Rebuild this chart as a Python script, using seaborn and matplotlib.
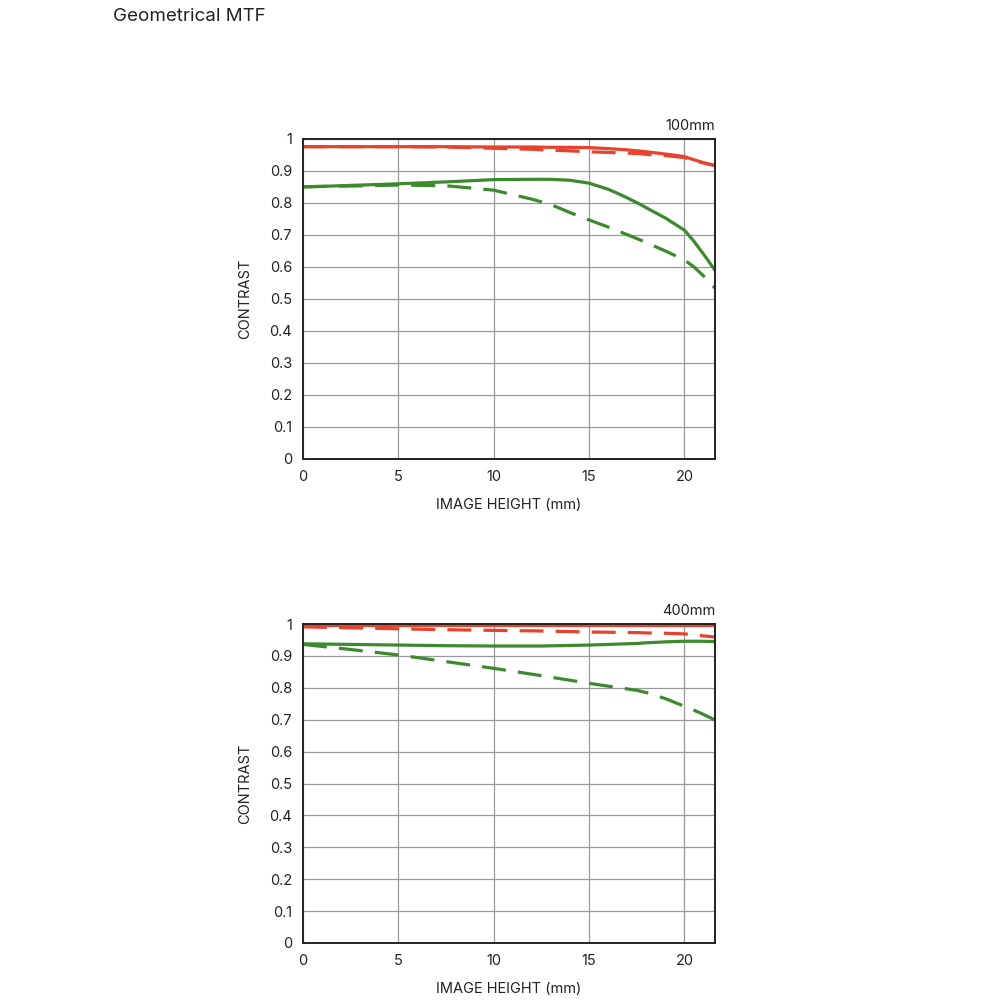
import matplotlib
matplotlib.use("Agg")
import matplotlib.pyplot as plt
import seaborn as sns
import pandas as pd

# ---- data ----
x_100 = [0, 2.5, 5, 7.5, 10, 12, 13, 14, 15, 16, 16.5, 17, 17.7, 18, 19, 20, 20.5, 21, 21.6]
red_solid_100 = [0.976, 0.976, 0.976, 0.976, 0.975, 0.975, 0.974, 0.974, 0.973, 0.970, 0.968, 0.966, 0.962, 0.960, 0.953, 0.945, 0.935, 0.926, 0.917]
red_dash_100 = [0.976, 0.976, 0.976, 0.975, 0.971, 0.968, 0.965, 0.963, 0.960, 0.958, 0.957, 0.956, 0.954, 0.952, 0.948, 0.942, 0.933, 0.925, 0.917]
green_solid_100 = [0.850, 0.855, 0.860, 0.866, 0.873, 0.874, 0.874, 0.871, 0.862, 0.843, 0.830, 0.816, 0.795, 0.785, 0.753, 0.715, 0.680, 0.640, 0.590]
green_dash_100 = [0.851, 0.853, 0.856, 0.854, 0.840, 0.812, 0.795, 0.770, 0.747, 0.725, 0.713, 0.701, 0.684, 0.676, 0.650, 0.622, 0.600, 0.572, 0.534]

x_400 = [0, 2.5, 5, 7.5, 10, 12.5, 15, 17.5, 18, 19, 20, 20.8, 21.6]
red_solid_400 = [0.996, 0.996, 0.996, 0.996, 0.996, 0.996, 0.996, 0.996, 0.996, 0.996, 0.996, 0.996, 0.996]
red_dash_400 = [0.991, 0.988, 0.985, 0.982, 0.980, 0.978, 0.975, 0.973, 0.972, 0.971, 0.969, 0.964, 0.959]
green_solid_400 = [0.938, 0.936, 0.934, 0.932, 0.931, 0.931, 0.934, 0.939, 0.941, 0.944, 0.946, 0.946, 0.945]
green_dash_400 = [0.936, 0.920, 0.903, 0.882, 0.861, 0.838, 0.814, 0.792, 0.785, 0.766, 0.742, 0.722, 0.699]

panel_labels = ["100mm", "400mm"]
x_ticks = [0, 5, 10, 15, 20]
y_ticks = [0, 0.1, 0.2, 0.3, 0.4, 0.5, 0.6, 0.7, 0.8, 0.9, 1]
y_tick_labels = ["0", "0.1", "0.2", "0.3", "0.4", "0.5", "0.6", "0.7", "0.8", "0.9", "1"]

RED = "#e8412c"
GREEN = "#3b8a2c"

sns.set_theme(style="white")
plt.rcParams["font.family"] = ["Inter", "DejaVu Sans"]


def make_df(x, rs, rd, gs, gd):
    rows = []
    for name, vals in [("red_solid", rs), ("red_dash", rd), ("green_solid", gs), ("green_dash", gd)]:
        for xi, v in zip(x, vals):
            rows.append({"x": xi, "y": v, "series": name})
    return pd.DataFrame(rows)


dfs = [
    make_df(x_100, red_solid_100, red_dash_100, green_solid_100, green_dash_100),
    make_df(x_400, red_solid_400, red_dash_400, green_solid_400, green_dash_400),
]

fig = plt.figure(figsize=(10, 10), dpi=100)
axes = [fig.add_axes([0.303, 0.541, 0.412, 0.320]),
        fig.add_axes([0.303, 0.057, 0.412, 0.319])]

palette = {"red_solid": RED, "red_dash": RED, "green_solid": GREEN, "green_dash": GREEN}
dashes = {"red_solid": "", "red_dash": (7.5, 3.8), "green_solid": "", "green_dash": (7.5, 3.8)}
order = ["green_dash", "green_solid", "red_dash", "red_solid"]

for ax, df, lab in zip(axes, dfs, panel_labels):
    sns.lineplot(data=df, x="x", y="y", hue="series", style="series",
                 hue_order=order, style_order=order,
                 palette=palette, dashes=dashes, linewidth=2.3,
                 legend=False, ax=ax, zorder=3)
    ax.set_xlim(0, 21.6)
    ax.set_ylim(0, 1)
    ax.set_xticks(x_ticks)
    ax.set_yticks(y_ticks)
    ax.set_yticklabels(y_tick_labels)
    ax.grid(True, color="#999999", linewidth=0.9)
    ax.tick_params(length=0, labelsize=10.5, colors="#222222", pad=8)
    for s in ax.spines.values():
        s.set_color("#222222")
        s.set_linewidth(1.4)
        s.set_zorder(4)
    ax.set_xlabel("IMAGE HEIGHT (mm)", fontsize=10.5, color="#222222", labelpad=10)
    ax.set_ylabel("CONTRAST", fontsize=10.5, color="#222222", labelpad=12)
    ax.text(1.0, 1.02, lab, transform=ax.transAxes, ha="right", va="bottom",
            fontsize=10.5, color="#222222")

fig.text(0.113, 0.992, "Geometrical MTF", ha="left", va="top", fontsize=13.5, color="#222222")

fig.savefig("out.png", dpi=100, facecolor="white")
